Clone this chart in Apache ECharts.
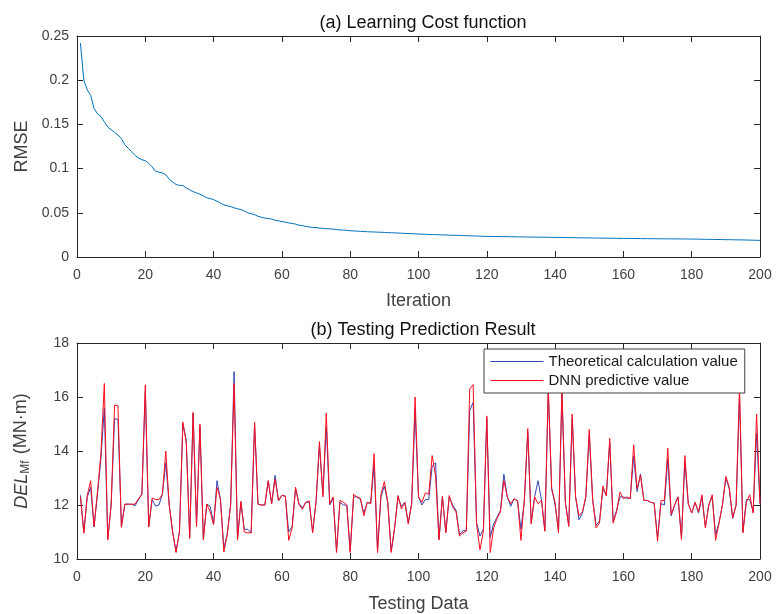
<!DOCTYPE html>
<html>
<head>
<meta charset="utf-8">
<script src="https://cdn.jsdelivr.net/npm/echarts@6/dist/echarts.min.js"></script>
<style>
  html, body { margin: 0; padding: 0; background: #fff; }
  #main { width: 776px; height: 614px; }
</style>
</head>
<body>
<div id="main"></div>
<script>
// (a) RMSE per iteration
var rmse = [
  0.242, 0.200, 0.189, 0.183, 0.168, 0.162, 0.159, 0.153, 0.147, 0.144,
  0.141, 0.138, 0.134, 0.127, 0.123, 0.119, 0.115, 0.112, 0.110, 0.109,
  0.106, 0.102, 0.097, 0.096, 0.095, 0.093, 0.088, 0.085, 0.082, 0.081,
  0.081, 0.078, 0.076, 0.074, 0.0725, 0.071, 0.069, 0.067, 0.066, 0.065,
  0.063, 0.061, 0.059, 0.058, 0.057, 0.0557, 0.0545, 0.0538, 0.052, 0.050,
  0.049, 0.048, 0.046, 0.045, 0.044, 0.0435, 0.043, 0.0415, 0.041, 0.040,
  0.0395, 0.0385, 0.038, 0.0372, 0.036, 0.0355, 0.0346, 0.034, 0.0335, 0.0333,
  0.0327, 0.0324, 0.032, 0.0318, 0.0316, 0.031, 0.0307, 0.0304, 0.0302, 0.0297,
  0.0295, 0.0293, 0.029, 0.0288, 0.0286, 0.0284, 0.0283, 0.0281, 0.028, 0.0278,
  0.0276, 0.0275, 0.0273, 0.0271, 0.0269, 0.0267, 0.0266, 0.0264, 0.0262, 0.026,
  0.0258, 0.0257, 0.0255, 0.0254, 0.0253, 0.0251, 0.0250, 0.0249, 0.0247, 0.0246,
  0.0245, 0.0244, 0.0242, 0.0241, 0.0240, 0.0238, 0.0237, 0.0236, 0.0234, 0.0233,
  0.0233, 0.0232, 0.0232, 0.0231, 0.0230, 0.0230, 0.0229, 0.0229, 0.0228, 0.0228,
  0.0227, 0.0226, 0.0226, 0.0225, 0.0225, 0.0224, 0.0224, 0.0223, 0.0222, 0.0222,
  0.0221, 0.0221, 0.0220, 0.0219, 0.0219, 0.0218, 0.0217, 0.0217, 0.0216, 0.0216,
  0.0215, 0.0214, 0.0214, 0.0213, 0.0213, 0.0212, 0.0212, 0.0211, 0.0211, 0.0210,
  0.0210, 0.0210, 0.0209, 0.0209, 0.0208, 0.0208, 0.0208, 0.0207, 0.0207, 0.0206,
  0.0206, 0.0206, 0.0205, 0.0205, 0.0205, 0.0204, 0.0204, 0.0204, 0.0203, 0.0203,
  0.0202, 0.0202, 0.0201, 0.0200, 0.0200, 0.0199, 0.0198, 0.0198, 0.0197, 0.0196,
  0.0196, 0.0195, 0.0194, 0.0194, 0.0193, 0.0192, 0.0191, 0.0190, 0.0189, 0.0188
];

// (b) theoretical calculation value
var theoryVal = [
  12.36, 11.0, 12.3, 12.65, 11.2, 12.4, 13.7, 15.6, 10.75, 12.0,
  15.2, 15.17, 11.2, 12.03, 12.03, 12.03, 11.97, 12.2, 12.4, 16.2,
  11.2, 12.2, 11.96, 12.0, 12.4, 13.56, 12.0, 11.0, 10.3, 11.0,
  15.0, 14.4, 10.8, 15.4, 11.3, 14.9, 10.75, 12.03, 11.95, 11.3,
  12.9, 12.2, 10.4, 10.95, 12.0, 16.94, 10.75, 12.1, 11.1, 11.1,
  10.97, 15.0, 12.03, 12.0, 12.0, 12.9, 12.05, 13.1, 12.15, 12.35,
  12.33, 11.0, 11.2, 12.6, 12.05, 11.9, 12.1, 12.1, 11.0, 12.1,
  14.2, 12.4, 14.9, 12.0, 12.25, 10.3, 12.1, 12.0, 12.0, 10.3,
  12.3, 12.3, 12.2, 11.7, 12.1, 12.05, 13.5, 10.3, 12.3, 12.7,
  12.1, 10.3, 11.15, 12.3, 11.95, 12.1, 11.35, 12.05, 15.5, 12.3,
  12.0, 12.2, 12.2, 13.45, 13.56, 10.75, 12.3, 11.0, 12.3, 12.0,
  11.8, 10.9, 11.05, 11.05, 15.5, 15.8, 11.35, 10.85, 11.1, 15.2,
  10.8, 11.3, 11.55, 11.8, 13.14, 12.3, 11.95, 12.23, 12.15, 11.1,
  12.15, 14.7, 11.35, 12.3, 12.9, 12.2, 11.05, 16.2, 12.6, 12.0,
  11.05, 16.1, 12.1, 11.25, 15.2, 12.3, 11.45, 11.7, 12.3, 14.6,
  12.2, 11.25, 11.4, 12.6, 12.35, 14.3, 11.4, 11.8, 12.3, 12.3,
  12.25, 12.25, 13.8, 12.5, 13.15, 12.17, 12.17, 12.1, 12.07, 10.8,
  12.05, 12.0, 13.7, 11.6, 12.0, 12.3, 10.8, 13.6, 12.05, 11.7,
  12.1, 11.7, 12.3, 11.2, 12.0, 12.3, 10.9, 11.35, 12.0, 13.0,
  12.6, 11.5, 12.0, 16.0, 11.0, 12.2, 12.2, 11.75, 14.65, 12.05
];

// (b) DNN predictive value
var dnnVal = [
  12.3, 10.95, 12.35, 12.9, 11.2, 12.5, 13.9, 16.5, 10.7, 12.0,
  15.7, 15.68, 11.17, 12.03, 12.03, 12.03, 12.03, 12.23, 12.4, 16.45,
  11.18, 12.26, 12.2, 12.2, 12.4, 14.0, 12.0, 11.0, 10.24, 11.0,
  15.07, 14.3, 10.76, 15.43, 11.2, 15.0, 10.7, 12.03, 11.75, 11.27,
  12.65, 12.23, 10.26, 10.9, 12.05, 16.5, 10.7, 12.14, 11.0, 10.97,
  10.97, 15.07, 12.03, 12.0, 12.0, 12.9, 12.05, 12.96, 12.17, 12.36,
  12.33, 10.69, 11.15, 12.66, 12.02, 11.84, 12.1, 12.15, 10.97, 12.15,
  14.35, 12.3, 15.4, 12.05, 12.3, 10.24, 12.17, 12.1, 12.0, 10.24,
  12.4, 12.3, 12.25, 11.6, 12.1, 12.05, 13.9, 10.24, 12.4, 12.87,
  12.1, 10.24, 11.15, 12.35, 11.85, 12.1, 11.3, 12.05, 16.0, 12.3,
  12.1, 12.45, 12.4, 13.83, 13.08, 10.7, 12.32, 10.97, 12.35, 11.93,
  11.75, 10.85, 10.97, 11.03, 16.3, 16.46, 11.3, 10.34, 11.03, 15.3,
  10.24, 11.15, 11.5, 11.75, 12.9, 12.3, 12.05, 12.23, 12.17, 10.69,
  12.2, 14.83, 11.3, 12.3, 12.05, 12.17, 11.03, 16.4, 12.6, 12.1,
  10.97, 16.3, 12.1, 11.2, 15.37, 12.3, 11.6, 11.75, 12.3, 14.8,
  12.2, 11.15, 11.33, 12.7, 12.35, 14.47, 11.33, 11.75, 12.48, 12.23,
  12.3, 12.23, 14.23, 12.6, 13.1, 12.17, 12.17, 12.1, 12.07, 10.66,
  12.17, 12.17, 14.1, 11.65, 12.0, 12.3, 10.72, 13.83, 12.05, 11.7,
  12.1, 11.75, 12.38, 11.15, 12.0, 12.38, 10.69, 11.33, 12.0, 13.06,
  12.66, 11.53, 12.0, 16.4, 10.97, 12.1, 12.38, 11.7, 15.37, 12.05
];

var seriesNames = ["Theoretical calculation value", "DNN predictive value"];

function pairs(arr) {
  return arr.map(function (v, i) { return [i + 1, v]; });
}

var FONT = "Liberation Sans";
var INK = "#262626";
var LABEL = "#404040";
var BLUE = "#2f47b4";
var RED = "#ff0d1d";

var myChart = echarts.init(document.getElementById("main"));

// 共用的坐标轴样式（MATLAB 风格：刻度朝内，四边框）
function xAx(gridIndex, name, show, gap) {
  return {
    type: "value", gridIndex: gridIndex, min: 0, max: 200, interval: 20,
    position: show ? "bottom" : "top",
    name: show ? name : "", nameLocation: "middle", nameGap: gap || 0,
    nameTextStyle: { fontFamily: FONT, fontSize: 18, color: LABEL },
    axisLine: { show: true, onZero: false, lineStyle: { color: INK, width: 1 } },
    axisTick: { show: true, inside: true, length: 6, lineStyle: { color: INK } },
    axisLabel: { show: show, fontFamily: FONT, fontSize: 14, color: LABEL, margin: 11 },
    splitLine: { show: false }
  };
}
function yAx(gridIndex, min, max, interval, name, show, rich) {
  return {
    type: "value", gridIndex: gridIndex, min: min, max: max, interval: interval,
    position: show ? "left" : "right",
    name: show ? name : "", nameLocation: "middle", nameGap: show ? 45 : 0,
    nameRotate: 90,
    nameTextStyle: { fontFamily: FONT, fontSize: 18, color: LABEL, rich: rich || {} },
    axisLine: { show: true, onZero: false, lineStyle: { color: INK, width: 1 } },
    axisTick: { show: true, inside: true, length: 6, lineStyle: { color: INK } },
    axisLabel: { show: show, fontFamily: FONT, fontSize: 14, color: LABEL, margin: 8 },
    splitLine: { show: false }
  };
}

var option = {
  animation: false,
  backgroundColor: "#fff",
  title: [
    { text: "(a) Learning Cost function", left: 418, top: 9, textAlign: "center",
      textStyle: { fontFamily: FONT, fontSize: 18, fontWeight: "normal", color: "#111" } },
    { text: "(b) Testing Prediction Result", left: 418, top: 316, textAlign: "center",
      textStyle: { fontFamily: FONT, fontSize: 18, fontWeight: "normal", color: "#111" } }
  ],
  grid: [
    { left: 77, top: 36, width: 683, height: 221 },
    { left: 77, top: 343, width: 683, height: 220 }
  ],
  legend: {
    orient: "vertical", left: 484, top: 349,
    data: seriesNames,
    itemWidth: 53, itemHeight: 14, itemGap: 4,
    itemStyle: { opacity: 0 },
    lineStyle: { width: 1 },
    padding: [5, 7, 5, 6],
    borderColor: "#404040", borderWidth: 1, borderRadius: 0,
    backgroundColor: "#fff",
    textStyle: { fontFamily: FONT, fontSize: 15, color: "#1a1a1a" }
  },
  xAxis: [
    xAx(0, "Iteration", true, 35), xAx(0, "", false),
    xAx(1, "Testing Data", true, 36), xAx(1, "", false)
  ],
  yAxis: [
    yAx(0, 0, 0.25, 0.05, "RMSE", true), yAx(0, 0, 0.25, 0.05, "", false),
    yAx(1, 10, 18, 2, "{i|DEL}{s|Mf} (MN·m)", true, {
      i: { fontFamily: FONT, fontSize: 18, fontStyle: "italic", color: LABEL },
      s: { fontFamily: FONT, fontSize: 12, color: LABEL, padding: [9, 1, 0, 0] }
    }), yAx(1, 10, 18, 2, "", false)
  ],
  series: [
    {
      name: "RMSE", type: "line", xAxisIndex: 0, yAxisIndex: 0,
      data: pairs(rmse), symbol: "none",
      lineStyle: { color: "#0072BD", width: 1 }, itemStyle: { color: "#0072BD" }
    },
    {
      name: seriesNames[0], type: "line", xAxisIndex: 2, yAxisIndex: 2,
      data: pairs(theoryVal), symbol: "none",
      lineStyle: { color: BLUE, width: 1 }, itemStyle: { color: BLUE }
    },
    {
      name: seriesNames[1], type: "line", xAxisIndex: 2, yAxisIndex: 2,
      data: pairs(dnnVal), symbol: "none",
      lineStyle: { color: RED, width: 1 }, itemStyle: { color: RED }
    }
  ]
};

myChart.setOption(option);
</script>
</body>
</html>
